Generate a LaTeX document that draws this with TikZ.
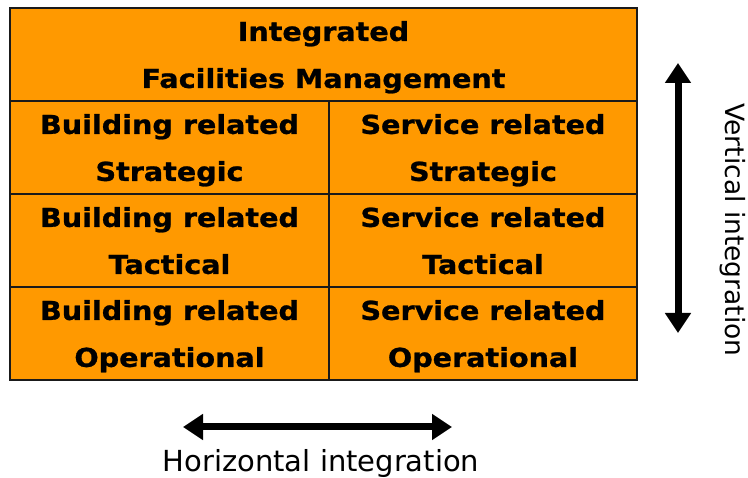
\documentclass[tikz,border=0pt]{standalone}
\usepackage{fontspec}
\setmainfont{DejaVu Sans}
\newfontfamily\cellfont{DejaVu Sans Bold}[FakeStretch=1.1,FakeBold=1]
\usetikzlibrary{arrows.meta}
\definecolor{ifmorange}{HTML}{FF9900}
\definecolor{ifmline}{HTML}{1A1A1A}
\tikzset{
    cell/.style={draw=ifmline, fill=ifmorange, line width=2pt, anchor=north west,
        inner sep=0pt, align=center, minimum height=93, text depth=-2pt,
        font=\cellfont\fontsize{26}{47}\selectfont},
    bigarrow/.style={line width=7pt, {Triangle[length=20pt,width=25pt]}-{Triangle[length=20pt,width=25pt]}},
    axislabel/.style={font=\fontsize{29}{32}\selectfont}
}
\begin{document}
\begin{tikzpicture}[x=1pt,y=-1pt]
        \useasboundingbox (0,0) rectangle (748,478);
        % matrix of cells
        \node[cell, minimum width=627] (ifm) at (9,7) {Integrated\\Facilities Management};
        \node[cell, minimum width=319] (bstrat) at (9,100) {Building related\\Strategic};
        \node[cell, minimum width=308] (sstrat) at (328,100) {Service related\\Strategic};
        \node[cell, minimum width=319] (btact) at (9,193) {Building related\\Tactical};
        \node[cell, minimum width=308] (stact) at (328,193) {Service related\\Tactical};
        \node[cell, minimum width=319] (boper) at (9,286) {Building related\\Operational};
        \node[cell, minimum width=308] (soper) at (328,286) {Service related\\Operational};
        % integration axes
        \coordinate (vtop) at (678,63);
        \coordinate (vbot) at (678,333);
        \coordinate (hleft) at (183,427);
        \coordinate (hright) at (452,427);
        \draw[bigarrow] (vtop) -- (vbot);
        \draw[bigarrow] (hleft) -- (hright);
        \node[axislabel, font=\fontsize{26.5}{30}\selectfont, rotate=-90] (vlabel) at (733,230) {Vertical integration};
        \node[axislabel] (hlabel) at (321,464) {Horizontal integration};
    \end{tikzpicture}
\end{document}
